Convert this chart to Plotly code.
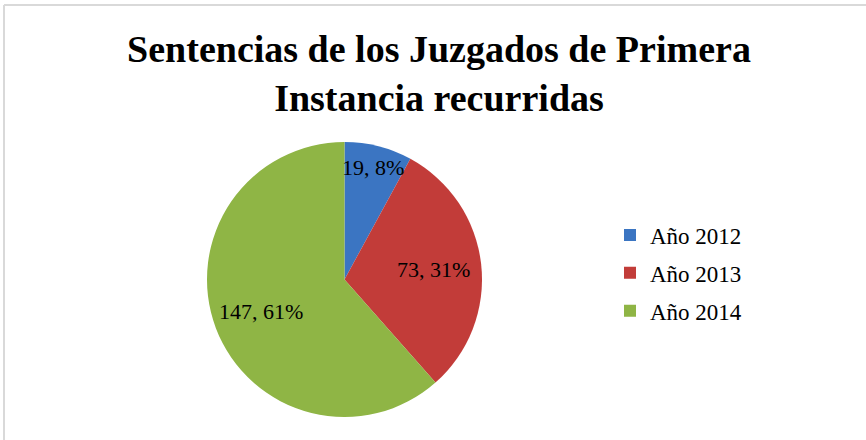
import math
import plotly.graph_objects as go

# ---- data ----
categories = ["Año 2012", "Año 2013", "Año 2014"]
values = [19, 73, 147]
percent_labels = ["8%", "31%", "61%"]
title_lines = ["Sentencias de los Juzgados de Primera", "Instancia recurridas"]

# ---- styles ----
colors = ["#3b75c2", "#c23c39", "#8fb545"]
label_radius = [0.84, 0.65, 0.65]
W, H = 866, 440
pie_left, pie_right, pie_top, pie_bottom = 207, 482, 142, 417
serif = "Liberation Serif, Times New Roman, serif"

fig = go.Figure()
fig.add_trace(go.Pie(
    labels=categories, values=values, sort=False, direction="clockwise",
    rotation=0, marker=dict(colors=colors, line=dict(width=0)),
    textinfo="none", hoverinfo="label+value+percent", showlegend=False,
    domain=dict(x=[pie_left / W, pie_right / W], y=[1 - pie_bottom / H, 1 - pie_top / H]),
))

# legend entries (one group each so spacing can be controlled)
for i, (cat, col) in enumerate(zip(categories, colors)):
    fig.add_trace(go.Scatter(
        x=[None], y=[None], mode="markers", name=cat, legendgroup=cat,
        marker=dict(symbol="square", size=13, color=col, line=dict(width=0)),
    ))

# data labels computed from pie geometry
cx = (pie_left + pie_right) / 2
cy = (pie_top + pie_bottom) / 2
r = (pie_right - pie_left) / 2
total = sum(values)
cum = 0
annotations = []
for v, p, f in zip(values, percent_labels, label_radius):
    mid = (cum + v / 2) / total * 2 * math.pi
    cum += v
    px = cx + r * f * math.sin(mid)
    py = cy - r * f * math.cos(mid)
    annotations.append(dict(
        x=px / W, y=1 - py / H, xref="paper", yref="paper",
        text=f"{v}, {p}", showarrow=False,
        font=dict(family=serif, size=22, color="black"),
        xanchor="center", yanchor="middle",
    ))

fig.update_layout(
    width=W, height=H,
    margin=dict(l=0, r=0, t=0, b=0),
    paper_bgcolor="white", plot_bgcolor="white",
    title=dict(text="<br>".join(title_lines), x=439 / W, xanchor="center",
               y=1 - 62 / H, yanchor="middle", yref="container",
               font=dict(family=serif, size=38, color="black", weight="bold")),
    xaxis=dict(visible=False), yaxis=dict(visible=False),
    showlegend=True,
    legend=dict(x=610 / W, xanchor="left", y=1 - 273 / H, yanchor="middle",
                font=dict(family=serif, size=23, color="black"),
                tracegroupgap=5, itemsizing="constant", bgcolor="rgba(0,0,0,0)"),
    annotations=annotations,
    shapes=[
        dict(type="line", xref="paper", yref="paper", x0=4 / W, x1=4 / W, y0=0, y1=1 - 5 / H,
             line=dict(color="#d9d9d9", width=2)),
        dict(type="line", xref="paper", yref="paper", x0=4 / W, x1=1, y0=1 - 5 / H, y1=1 - 5 / H,
             line=dict(color="#d9d9d9", width=2)),
    ],
)

fig.write_html("out.html", config={"displayModeBar": False},
               post_script="document.body.style.margin='0';")
